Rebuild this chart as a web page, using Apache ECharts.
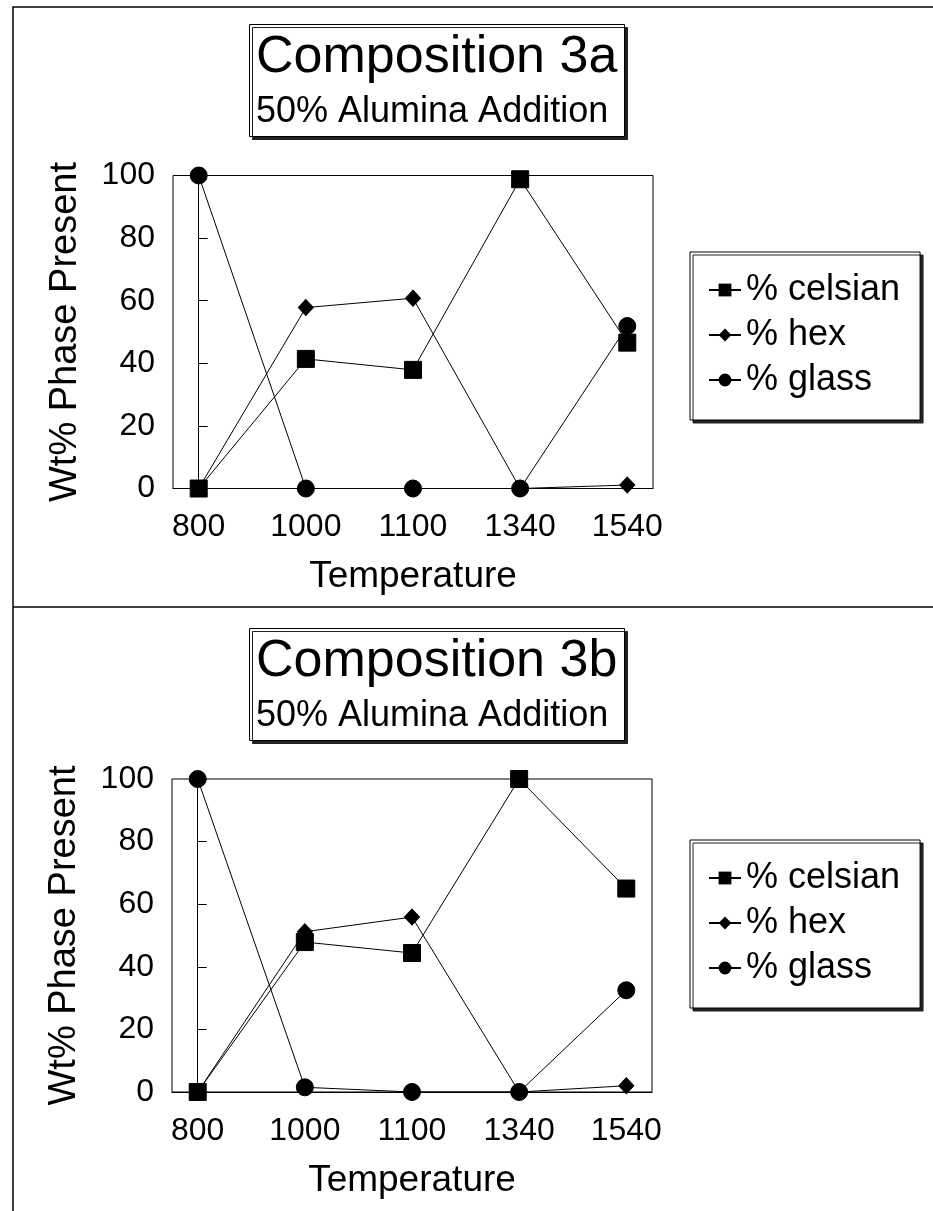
<!DOCTYPE html>
<html>
<head>
<meta charset="utf-8">
<script src="https://cdn.jsdelivr.net/npm/echarts@6/dist/echarts.min.js"></script>
<style>
html,body{margin:0;padding:0;background:#fff;}
#main{width:933px;height:1211px;}
</style>
</head>
<body>
<div id="main"></div>
<script>
// ---- data ----
const temps = ['800', '1000', '1100', '1340', '1540'];
const seriesNames = ['% celsian', '% hex', '% glass'];
const celsian3a = [0, 41.4, 37.9, 98.8, 46.6];
const hex3a = [0, 57.8, 60.8, 0, 1.1];
const glass3a = [100, 0, 0, 0, 51.9];
const celsian3b = [0, 47.9, 44.4, 100, 65.0];
const hex3b = [0, 51.2, 55.9, 0, 2];
const glass3b = [100, 1.5, 0, 0, 32.5];
const titles = ['Composition 3a', 'Composition 3b'];
const subtitles = ['50% Alumina Addition', '50% Alumina Addition'];
const yTitle = 'Wt% Phase Present';
const xTitle = 'Temperature';

const FONT = "'Liberation Sans', Arial, sans-serif";
const symbols = ['rect', 'diamond', 'circle'];
const symbolSizes = [17, [15, 16], 17];

const chart = echarts.init(document.getElementById('main'), null, {renderer: 'canvas'});

const panels = [
  {gridTop: 175.5, gridLeft: 173, titleTop: 24, legendTop: 252, data: [celsian3a, hex3a, glass3a]},
  {gridTop: 779, gridLeft: 172, titleTop: 628, legendTop: 840, data: [celsian3b, hex3b, glass3b]}
];

const grid = [], xAxis = [], yAxis = [], series = [], legend = [], title = [];
panels.forEach((p, k) => {
  grid.push({left: p.gridLeft, top: p.gridTop, width: 480, height: 313,
    show: true, borderColor: '#000', borderWidth: 1, backgroundColor: 'transparent'});
  xAxis.push({
    type: 'value', gridIndex: k, min: -0.24, max: 4.24,
    name: xTitle, nameLocation: 'middle', nameGap: 70,
    nameTextStyle: {fontFamily: FONT, fontSize: 37, color: '#000'},
    axisLine: {show: true, lineStyle: {color: '#000', width: 1}},
    axisTick: {show: false},
    splitLine: {show: false},
    axisLabel: {customValues: [0, 1, 2, 3, 4], formatter: v => temps[Math.round(v)],
      fontFamily: FONT, fontSize: 32, color: '#000', margin: 23}
  });
  yAxis.push({
    type: 'value', gridIndex: k, min: 0, max: 100, interval: 20,
    name: yTitle, nameLocation: 'middle', nameGap: 88, nameRotate: 90,
    nameTextStyle: {fontFamily: FONT, fontSize: 38, color: '#000'},
    axisLine: {show: true, lineStyle: {color: '#000', width: 1}},
    axisTick: {show: true, inside: true, length: 9, lineStyle: {color: '#000'}},
    splitLine: {show: false},
    axisLabel: {fontFamily: FONT, fontSize: 32, color: '#000', margin: 18}
  });
  seriesNames.forEach((nm, j) => {
    series.push({
      type: 'line', name: nm, xAxisIndex: k, yAxisIndex: k,
      data: p.data[j].map((v, i) => [i, v]),
      symbol: symbols[j], symbolSize: symbolSizes[j], showSymbol: true,
      clip: false, animation: false,
      lineStyle: {color: '#000', width: 1},
      itemStyle: {color: '#000', borderColor: '#000'},
      z: 3 + j
    });
  });
  legend.push({
    orient: 'vertical', left: 690, top: p.legendTop,
    data: seriesNames,
    itemWidth: 32, itemHeight: 16, itemGap: 9,
    padding: [20, 20, 22, 18],
    borderColor: '#000', borderWidth: 1, backgroundColor: '#fff',
    shadowColor: '#222', shadowBlur: 0, shadowOffsetX: 3, shadowOffsetY: 3,
    textStyle: {fontFamily: FONT, fontSize: 36, color: '#000', lineHeight: 34},
    selectedMode: false
  });
  title.push({
    text: titles[k], subtext: subtitles[k],
    left: 249, top: p.titleTop, textAlign: 'left',
    padding: [8, 7, 7, 7], itemGap: 10,
    borderColor: '#000', borderWidth: 1, backgroundColor: '#fff',
    shadowColor: '#222', shadowBlur: 0, shadowOffsetX: 3, shadowOffsetY: 3,
    textStyle: {fontFamily: FONT, fontSize: 52, fontWeight: 'normal', color: '#000'},
    subtextStyle: {fontFamily: FONT, fontSize: 36, color: '#000'}
  });
});

chart.setOption({
  backgroundColor: '#fff',
  animation: false,
  title, legend, grid, xAxis, yAxis, series,
  graphic: [
    {type: 'rect', shape: {x: 13, y: 7, width: 960, height: 1300},
      style: {fill: 'none', stroke: '#000', lineWidth: 1.5}, silent: true, z: -10},
    {type: 'line', shape: {x1: 13, y1: 607, x2: 933, y2: 607},
      style: {stroke: '#000', lineWidth: 1.5}, silent: true, z: -10}
  ]
});
</script>
</body>
</html>
